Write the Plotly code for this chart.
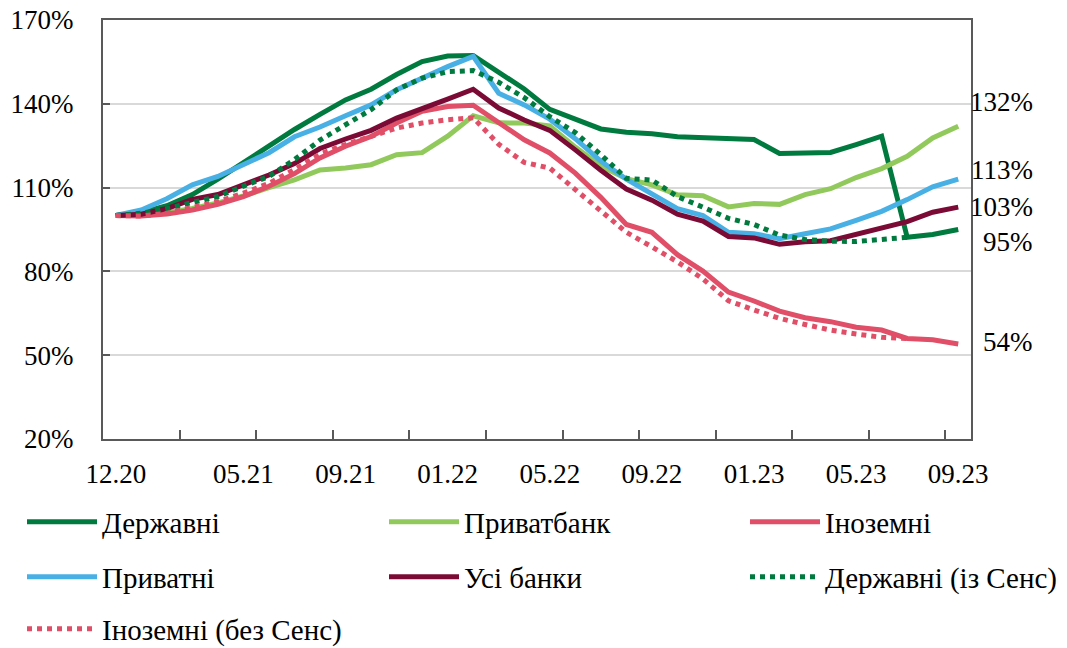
import plotly.graph_objects as go

# Monthly observations, Dec 2020 - Sep 2023 (index, 12.20 = 100%)
months = ["12.20", "01.21", "02.21", "03.21", "04.21", "05.21", "06.21", "07.21",
          "08.21", "09.21", "10.21", "11.21", "12.21", "01.22", "02.22", "03.22",
          "04.22", "05.22", "06.22", "07.22", "08.22", "09.22", "10.22", "11.22",
          "12.22", "01.23", "02.23", "03.23", "04.23", "05.23", "06.23", "07.23",
          "08.23", "09.23"]

tick_labels = ["12.20", "05.21", "09.21", "01.22", "05.22", "09.22", "01.23", "05.23", "09.23"]

derzhavni = [100, 101, 103.5, 107.5, 113, 119, 125, 130.8, 136.2, 141.4, 145.2, 150.5, 155.1,
             157.1, 157.3, 151.5, 145.3, 138, 134.6, 131, 129.8, 129.3, 128.2, 127.9, 127.2,
             127.2, 122.2, 122.6, 122.6, 125.4, 128.4, 92.2, 93.2, 95]

privatbank = [100, 100, 101, 102.5, 104.5, 107, 110, 112.8, 116.3, 117, 118.2, 121.8, 122.5,
              128.4, 135.7, 133.2, 133.1, 132.1, 124.5, 117.7, 113.2, 111, 107.4, 107.1, 103.1,
              104.3, 104, 107.5, 109.6, 113.6, 116.8, 121.2, 127.8, 132]

inozemni = [100, 99.8, 100.5, 102, 104, 106.8, 110.5, 115, 120.6, 124.8, 128.3, 133.1, 137.3,
            139, 139.5, 133.5, 127.1, 122.4, 115.2, 106.5, 96.8, 94, 86, 80.1, 72.6, 69.4, 65.8,
            63.4, 62, 60, 59, 56, 55.5, 54]

pryvatni = [100, 102, 106, 111, 114, 118.3, 122.5, 128.2, 131.7, 135.7, 139.6, 145, 149.2,
            153.3, 157, 143.8, 139.6, 134.5, 127.5, 119.5, 113, 107.5, 102.5, 100, 94, 93.5,
            91.7, 93.5, 95.2, 98.3, 101.5, 105.7, 110.3, 113]

usi_banky = [100, 100.5, 102.5, 105.8, 107.5, 111, 114.5, 118.6, 124, 127.4, 130.5, 134.9,
             138.5, 141.7, 145.2, 138.5, 134.2, 130.5, 123.5, 116.2, 109.5, 105.5, 100.5, 98,
             92.5, 92, 89.7, 90.6, 91, 93.3, 95.3, 97.8, 101.2, 103]

derzhavni_sens = [100, 100.8, 102.5, 104.8, 106.8, 110.5, 114, 120, 127, 132.5, 137.9, 145,
                  149.2, 151.5, 151.9, 147.7, 142.2, 135.4, 129.7, 121.8, 113.3, 112.7, 106.8,
                  103, 99, 96.8, 93, 91.4, 90.8, 90.7, 91.3, 92.2]

inozemni_bez_sens = [100, 99.8, 100.8, 103, 105, 108, 111.5, 116.5, 122, 125.4, 128.3, 131.3,
                     133.1, 134.3, 135, 125.5, 119, 117, 109.3, 101.5, 94, 88.8, 83.4, 77.3,
                     69.5, 66.2, 63.2, 61, 59, 57.6, 56.4, 56]

GREEN = "#007A3E"
LIGHT_GREEN = "#92C95C"
PINK = "#E04F67"
BLUE = "#48B0E4"
MAROON = "#7B0B35"
FONT = "Liberation Serif"
FS = 27
LEGEND_FS = 29

series = [
    ("Державні", derzhavni, GREEN, "solid"),
    ("Приватбанк", privatbank, LIGHT_GREEN, "solid"),
    ("Іноземні", inozemni, PINK, "solid"),
    ("Приватні", pryvatni, BLUE, "solid"),
    ("Усі банки", usi_banky, MAROON, "solid"),
    ("Державні (із Сенс)", derzhavni_sens, GREEN, "5px,5px"),
    ("Іноземні (без Сенс)", inozemni_bez_sens, PINK, "5px,5px"),
]

# legend slots: (column x, row y) in pixels of the 1067x648 page
L, R, T, B = 103, 96, 20, 209
W, H = 1067 - L - R, 648 - T - B
slots = [(22, 522), (384, 522), (745, 522),
         (22, 577), (384, 577), (745, 577),
         (22, 629)]

fig = go.Figure()
layout_legends = {}
for k, (name, vals, color, dash) in enumerate(series):
    lg = "legend" if k == 0 else f"legend{k + 1}"
    fig.add_trace(go.Scatter(
        x=list(range(len(vals))), y=vals, name=name, mode="lines",
        line=dict(color=color, width=5, dash=dash),
        legend=lg, hoverinfo="x+y+name",
    ))
    px, py = slots[k]
    layout_legends[lg] = dict(
        x=(px - L) / W, y=(T + H - py) / H, xanchor="left", yanchor="middle",
        orientation="h", itemwidth=70, bgcolor="rgba(0,0,0,0)",
        font=dict(family=FONT, size=LEGEND_FS, color="black"),
    )

# end-of-series value labels
label_series = [privatbank, pryvatni, usi_banky, derzhavni, inozemni]
label_y = [140.7, 116.4, 103.2, 90.7, 54.6]
for vals, yy in zip(label_series, label_y):
    fig.add_annotation(
        x=(1035 - L) / W, xref="paper", y=yy, yref="y",
        text=f"{round(vals[-1])}%", showarrow=False, xanchor="right", yanchor="middle",
        font=dict(family=FONT, size=FS, color="black"),
    )

fig.update_layout(
    width=1067, height=648,
    margin=dict(l=L, r=R, t=T, b=B, autoexpand=False),
    paper_bgcolor="white", plot_bgcolor="white",
    showlegend=True,
    **layout_legends,
    xaxis=dict(
        range=[-0.5, len(months) - 0.5],
        tickvals=[months.index(t) for t in tick_labels], ticktext=tick_labels,
        ticks="inside", ticklen=0, ticklabelstandoff=10,
        minor=dict(tick0=-0.5, dtick=3, ticks="inside", ticklen=9, tickwidth=1.5,
                   tickcolor="#595959"),
        showgrid=False, zeroline=False,
        showline=True, linecolor="#595959", linewidth=2, mirror=True,
        tickfont=dict(family=FONT, size=FS, color="black"),
    ),
    yaxis=dict(
        range=[20, 170], tick0=20, dtick=30, ticksuffix="%",
        ticks="inside", ticklen=7, tickwidth=1.5, tickcolor="#595959",
        ticklabelstandoff=22,
        showgrid=True, gridcolor="#D9D9D9", gridwidth=1.5, zeroline=False,
        showline=True, linecolor="#595959", linewidth=2, mirror=True,
        tickfont=dict(family=FONT, size=FS, color="black"),
    ),
)

fig.write_html("out.html")
